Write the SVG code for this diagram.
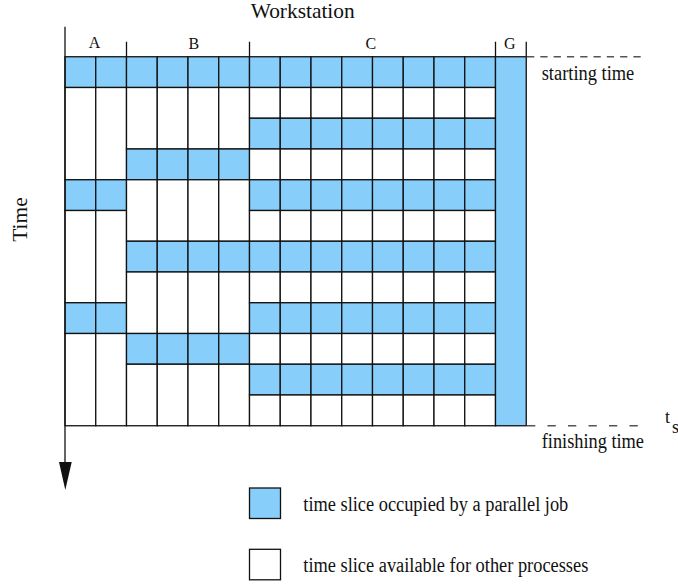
<svg xmlns="http://www.w3.org/2000/svg" xmlns:xlink="http://www.w3.org/1999/xlink" width="678" height="584" viewBox="0 0 678 584">
<style>
  .b { fill: #87cefa; stroke: #111; stroke-width: 1.3; }
  .w { fill: #ffffff; stroke: #111; stroke-width: 1.3; }
  .ln { stroke: #111; stroke-width: 1.3; fill: none; }
  .dash { stroke: #555; stroke-width: 1.3; fill: none; }
  .t { font-family: "Liberation Serif", "Times New Roman", serif; fill: #111; }
</style>
<defs>
  <g id="aBlue">
    <rect class="b" x="65" y="0" width="30.75" height="30.75"/>
    <rect class="b" x="95.75" y="0" width="30.75" height="30.75"/>
  </g>
  <g id="aWhite">
    <rect class="w" x="65" y="0" width="30.75" height="92.25"/>
    <rect class="w" x="95.75" y="0" width="30.75" height="92.25"/>
  </g>
  <g id="bBlue">
    <rect class="b" x="126.5" y="0" width="30.75" height="30.75"/>
    <rect class="b" x="157.25" y="0" width="30.75" height="30.75"/>
    <rect class="b" x="188" y="0" width="30.75" height="30.75"/>
    <rect class="b" x="218.75" y="0" width="30.75" height="30.75"/>
  </g>
  <g id="bWhite">
    <rect class="w" x="126.5" y="0" width="30.75" height="61.5"/>
    <rect class="w" x="157.25" y="0" width="30.75" height="61.5"/>
    <rect class="w" x="188" y="0" width="30.75" height="61.5"/>
    <rect class="w" x="218.75" y="0" width="30.75" height="61.5"/>
  </g>
  <g id="cBlue">
    <rect class="b" x="249.5" y="0" width="30.75" height="30.75"/>
    <rect class="b" x="280.25" y="0" width="30.75" height="30.75"/>
    <rect class="b" x="311" y="0" width="30.75" height="30.75"/>
    <rect class="b" x="341.75" y="0" width="30.75" height="30.75"/>
    <rect class="b" x="372.5" y="0" width="30.75" height="30.75"/>
    <rect class="b" x="403.25" y="0" width="30.75" height="30.75"/>
    <rect class="b" x="434" y="0" width="30.75" height="30.75"/>
    <rect class="b" x="464.75" y="0" width="30.75" height="30.75"/>
  </g>
  <g id="cWhite">
    <rect class="w" x="249.5" y="0" width="30.75" height="30.75"/>
    <rect class="w" x="280.25" y="0" width="30.75" height="30.75"/>
    <rect class="w" x="311" y="0" width="30.75" height="30.75"/>
    <rect class="w" x="341.75" y="0" width="30.75" height="30.75"/>
    <rect class="w" x="372.5" y="0" width="30.75" height="30.75"/>
    <rect class="w" x="403.25" y="0" width="30.75" height="30.75"/>
    <rect class="w" x="434" y="0" width="30.75" height="30.75"/>
    <rect class="w" x="464.75" y="0" width="30.75" height="30.75"/>
  </g>
</defs>

<rect x="0" y="0" width="678" height="584" fill="#ffffff"/>

<g id="title">
  <text class="t" x="250.7" y="18.3" font-size="21" textLength="104" lengthAdjust="spacingAndGlyphs">Workstation</text>
</g>

<g id="ws-A">
  <text class="t" x="94.5" y="48.3" font-size="16" text-anchor="middle">A</text>
  <use xlink:href="#aBlue" y="56.75"/>
  <use xlink:href="#aWhite" y="87.5"/>
  <use xlink:href="#aBlue" y="179.75"/>
  <use xlink:href="#aWhite" y="210.5"/>
  <use xlink:href="#aBlue" y="302.75"/>
  <use xlink:href="#aWhite" y="333.5"/>
</g>

<g id="ws-B">
  <text class="t" x="193.8" y="48.5" font-size="16" text-anchor="middle">B</text>
  <use xlink:href="#bBlue" y="56.75"/>
  <use xlink:href="#bWhite" y="87.5"/>
  <use xlink:href="#bBlue" y="149"/>
  <use xlink:href="#bWhite" y="179.75"/>
  <use xlink:href="#bBlue" y="241.25"/>
  <use xlink:href="#bWhite" y="272"/>
  <use xlink:href="#bBlue" y="333.5"/>
  <use xlink:href="#bWhite" y="364.25"/>
</g>

<g id="ws-C">
  <text class="t" x="370.8" y="49" font-size="16" text-anchor="middle">C</text>
  <use xlink:href="#cBlue" y="56.75"/>
  <use xlink:href="#cWhite" y="87.5"/>
  <use xlink:href="#cBlue" y="118.25"/>
  <use xlink:href="#cWhite" y="149"/>
  <use xlink:href="#cBlue" y="179.75"/>
  <use xlink:href="#cWhite" y="210.5"/>
  <use xlink:href="#cBlue" y="241.25"/>
  <use xlink:href="#cWhite" y="272"/>
  <use xlink:href="#cBlue" y="302.75"/>
  <use xlink:href="#cWhite" y="333.5"/>
  <use xlink:href="#cBlue" y="364.25"/>
  <use xlink:href="#cWhite" y="395"/>
</g>

<g id="ws-G">
  <text class="t" x="509.7" y="49" font-size="16" text-anchor="middle">G</text>
  <rect class="b" x="495.5" y="56.75" width="30.75" height="369"/>
</g>

<g id="time-label">
  <text class="t" transform="translate(26.7,241.7) rotate(-90)" font-size="21" textLength="44.4" lengthAdjust="spacingAndGlyphs">Time</text>
</g>

<g id="markers">
  <text class="t" x="541.7" y="80" font-size="20" textLength="92.6" lengthAdjust="spacingAndGlyphs">starting time</text>
  <text class="t" x="541.7" y="448.3" font-size="20" textLength="102.3" lengthAdjust="spacingAndGlyphs">finishing time</text>
  <text class="t" x="665" y="423" font-size="18">t</text>
  <text class="t" x="672" y="433" font-size="18">s</text>
</g>

<g id="connectors">
  <line class="ln" x1="65" y1="26.7" x2="65" y2="463"/>
  <polygon points="59,462 71.7,462 65.3,490" fill="#111"/>
  <line class="ln" x1="126.5" y1="41.7" x2="126.5" y2="56.75"/>
  <line class="ln" x1="249.5" y1="41.7" x2="249.5" y2="56.75"/>
  <line class="ln" x1="495.5" y1="41.7" x2="495.5" y2="56.75"/>
  <line class="ln" x1="526.25" y1="41.7" x2="526.25" y2="56.75"/>
  <line class="dash" x1="527" y1="56.75" x2="643" y2="56.75" stroke-dasharray="7.3 6"/>
  <line class="dash" x1="527" y1="425.75" x2="638.5" y2="425.75" stroke-dasharray="8.3 12.2"/>
</g>

<g id="legend-occupied">
  <rect class="b" x="249.5" y="488" width="31" height="30.5"/>
  <text class="t" x="303.3" y="511" font-size="20" textLength="265" lengthAdjust="spacingAndGlyphs">time slice occupied by a parallel job</text>
</g>
<g id="legend-available">
  <rect class="w" x="249.5" y="549.3" width="31" height="30.5"/>
  <text class="t" x="303.3" y="571.7" font-size="20" textLength="285" lengthAdjust="spacingAndGlyphs">time slice available for other processes</text>
</g>
</svg>
